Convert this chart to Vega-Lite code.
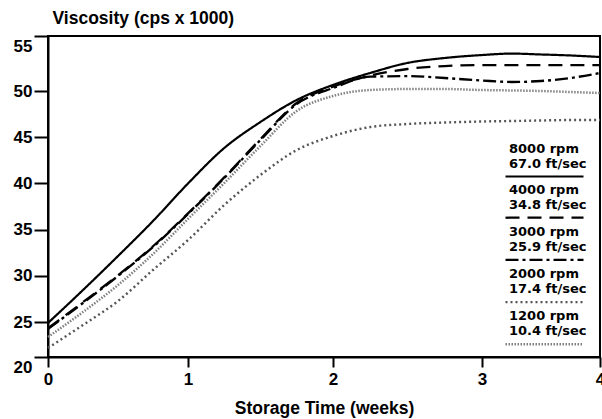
{
  "$schema": "https://vega.github.io/schema/vega-lite/v6.json",
  "width": 552,
  "height": 321,
  "autosize": {"type": "none"},
  "padding": {"left": 48, "top": 36, "right": 2, "bottom": 62},
  "background": "white",
  "config": {
    "view": {"stroke": "black", "strokeWidth": 2},
    "axis": {
      "domainColor": "black", "domainWidth": 2, "tickColor": "black", "tickWidth": 2, "grid": false,
      "labelFont": "Liberation Sans", "labelFontWeight": "bold", "labelFontSize": 17, "labelColor": "black",
      "titleFont": "Liberation Sans", "titleFontWeight": "bold", "titleFontSize": 17.5, "titleColor": "black"
    },
    "legend": {
      "orient": "none", "legendX": 490, "legendY": 110,
      "symbolType": "M-7.8,4.8H7.8", "symbolSize": 100,
      "labelFont": "DejaVu Sans", "labelFontSize": 13, "labelFontWeight": "bold", "labelColor": "black",
      "labelBaseline": "alphabetic", "labelOffset": -42, "labelLimit": 0,
      "rowPadding": 2.2, "padding": 0, "offset": 0
    }
  },
  "data": {"values": [
    {"s": "8000 rpm|67.0 ft/sec", "t": 0, "v": 24.86},
    {"s": "8000 rpm|67.0 ft/sec", "t": 0.25, "v": 28.46},
    {"s": "8000 rpm|67.0 ft/sec", "t": 0.5, "v": 32.14},
    {"s": "8000 rpm|67.0 ft/sec", "t": 0.75, "v": 35.93},
    {"s": "8000 rpm|67.0 ft/sec", "t": 1, "v": 39.99},
    {"s": "8000 rpm|67.0 ft/sec", "t": 1.25, "v": 43.83},
    {"s": "8000 rpm|67.0 ft/sec", "t": 1.5, "v": 46.65},
    {"s": "8000 rpm|67.0 ft/sec", "t": 1.75, "v": 49.03},
    {"s": "8000 rpm|67.0 ft/sec", "t": 2, "v": 50.55},
    {"s": "8000 rpm|67.0 ft/sec", "t": 2.25, "v": 51.64},
    {"s": "8000 rpm|67.0 ft/sec", "t": 2.5, "v": 52.55},
    {"s": "8000 rpm|67.0 ft/sec", "t": 2.75, "v": 53.0},
    {"s": "8000 rpm|67.0 ft/sec", "t": 3, "v": 53.27},
    {"s": "8000 rpm|67.0 ft/sec", "t": 3.25, "v": 53.4},
    {"s": "8000 rpm|67.0 ft/sec", "t": 3.5, "v": 53.32},
    {"s": "8000 rpm|67.0 ft/sec", "t": 3.75, "v": 53.23},
    {"s": "8000 rpm|67.0 ft/sec", "t": 4, "v": 53.09},
    {"s": "4000 rpm|34.8 ft/sec", "t": 0, "v": 24.1},
    {"s": "4000 rpm|34.8 ft/sec", "t": 0.25, "v": 27.15},
    {"s": "4000 rpm|34.8 ft/sec", "t": 0.5, "v": 30.05},
    {"s": "4000 rpm|34.8 ft/sec", "t": 0.75, "v": 33.2},
    {"s": "4000 rpm|34.8 ft/sec", "t": 1, "v": 36.75},
    {"s": "4000 rpm|34.8 ft/sec", "t": 1.25, "v": 40.65},
    {"s": "4000 rpm|34.8 ft/sec", "t": 1.5, "v": 44.8},
    {"s": "4000 rpm|34.8 ft/sec", "t": 1.75, "v": 48.7},
    {"s": "4000 rpm|34.8 ft/sec", "t": 2, "v": 50.4},
    {"s": "4000 rpm|34.8 ft/sec", "t": 2.25, "v": 51.4},
    {"s": "4000 rpm|34.8 ft/sec", "t": 2.5, "v": 52.0},
    {"s": "4000 rpm|34.8 ft/sec", "t": 2.75, "v": 52.27},
    {"s": "4000 rpm|34.8 ft/sec", "t": 3, "v": 52.36},
    {"s": "4000 rpm|34.8 ft/sec", "t": 3.25, "v": 52.36},
    {"s": "4000 rpm|34.8 ft/sec", "t": 3.5, "v": 52.36},
    {"s": "4000 rpm|34.8 ft/sec", "t": 3.75, "v": 52.36},
    {"s": "4000 rpm|34.8 ft/sec", "t": 4, "v": 52.36},
    {"s": "3000 rpm|25.9 ft/sec", "t": 0, "v": 24.0},
    {"s": "3000 rpm|25.9 ft/sec", "t": 0.25, "v": 27.06},
    {"s": "3000 rpm|25.9 ft/sec", "t": 0.5, "v": 29.98},
    {"s": "3000 rpm|25.9 ft/sec", "t": 0.75, "v": 33.12},
    {"s": "3000 rpm|25.9 ft/sec", "t": 1, "v": 36.69},
    {"s": "3000 rpm|25.9 ft/sec", "t": 1.25, "v": 40.58},
    {"s": "3000 rpm|25.9 ft/sec", "t": 1.5, "v": 44.7},
    {"s": "3000 rpm|25.9 ft/sec", "t": 1.75, "v": 48.59},
    {"s": "3000 rpm|25.9 ft/sec", "t": 2, "v": 50.27},
    {"s": "3000 rpm|25.9 ft/sec", "t": 2.25, "v": 51.3},
    {"s": "3000 rpm|25.9 ft/sec", "t": 2.5, "v": 51.35},
    {"s": "3000 rpm|25.9 ft/sec", "t": 2.75, "v": 51.18},
    {"s": "3000 rpm|25.9 ft/sec", "t": 3, "v": 50.95},
    {"s": "3000 rpm|25.9 ft/sec", "t": 3.25, "v": 50.82},
    {"s": "3000 rpm|25.9 ft/sec", "t": 3.5, "v": 50.91},
    {"s": "3000 rpm|25.9 ft/sec", "t": 3.75, "v": 51.18},
    {"s": "3000 rpm|25.9 ft/sec", "t": 4, "v": 51.64},
    {"s": "2000 rpm|17.4 ft/sec", "t": 0, "v": 21.29},
    {"s": "2000 rpm|17.4 ft/sec", "t": 0.25, "v": 24.57},
    {"s": "2000 rpm|17.4 ft/sec", "t": 0.5, "v": 27.27},
    {"s": "2000 rpm|17.4 ft/sec", "t": 0.75, "v": 30.63},
    {"s": "2000 rpm|17.4 ft/sec", "t": 1, "v": 33.87},
    {"s": "2000 rpm|17.4 ft/sec", "t": 1.25, "v": 37.66},
    {"s": "2000 rpm|17.4 ft/sec", "t": 1.5, "v": 40.91},
    {"s": "2000 rpm|17.4 ft/sec", "t": 1.75, "v": 43.61},
    {"s": "2000 rpm|17.4 ft/sec", "t": 2, "v": 45.13},
    {"s": "2000 rpm|17.4 ft/sec", "t": 2.25, "v": 46.1},
    {"s": "2000 rpm|17.4 ft/sec", "t": 2.5, "v": 46.43},
    {"s": "2000 rpm|17.4 ft/sec", "t": 2.75, "v": 46.59},
    {"s": "2000 rpm|17.4 ft/sec", "t": 3, "v": 46.7},
    {"s": "2000 rpm|17.4 ft/sec", "t": 3.25, "v": 46.75},
    {"s": "2000 rpm|17.4 ft/sec", "t": 3.5, "v": 46.81},
    {"s": "2000 rpm|17.4 ft/sec", "t": 3.75, "v": 46.86},
    {"s": "2000 rpm|17.4 ft/sec", "t": 4, "v": 46.86},
    {"s": "1200 rpm|10.4 ft/sec", "t": 0, "v": 22.86},
    {"s": "1200 rpm|10.4 ft/sec", "t": 0.25, "v": 26.08},
    {"s": "1200 rpm|10.4 ft/sec", "t": 0.5, "v": 29.0},
    {"s": "1200 rpm|10.4 ft/sec", "t": 0.75, "v": 32.36},
    {"s": "1200 rpm|10.4 ft/sec", "t": 1, "v": 36.15},
    {"s": "1200 rpm|10.4 ft/sec", "t": 1.25, "v": 40.04},
    {"s": "1200 rpm|10.4 ft/sec", "t": 1.5, "v": 44.05},
    {"s": "1200 rpm|10.4 ft/sec", "t": 1.75, "v": 47.84},
    {"s": "1200 rpm|10.4 ft/sec", "t": 2, "v": 49.46},
    {"s": "1200 rpm|10.4 ft/sec", "t": 2.25, "v": 50.09},
    {"s": "1200 rpm|10.4 ft/sec", "t": 2.5, "v": 50.18},
    {"s": "1200 rpm|10.4 ft/sec", "t": 2.75, "v": 50.18},
    {"s": "1200 rpm|10.4 ft/sec", "t": 3, "v": 50.09},
    {"s": "1200 rpm|10.4 ft/sec", "t": 3.25, "v": 50.05},
    {"s": "1200 rpm|10.4 ft/sec", "t": 3.5, "v": 50.0},
    {"s": "1200 rpm|10.4 ft/sec", "t": 3.75, "v": 49.89},
    {"s": "1200 rpm|10.4 ft/sec", "t": 4, "v": 49.78}
  ]},
  "mark": {"type": "line", "interpolate": "monotone"},
  "encoding": {
    "x": {
      "field": "t", "type": "quantitative",
      "scale": {"domain": [0, 1, 2, 3, 4], "range": [0, 140, 285, 434, 552]},
      "axis": {"values": [0, 1, 2, 3, 4], "format": "d", "title": "Storage Time (weeks)", "tickSize": 10, "labelPadding": 4, "labelFlush": false, "titlePadding": 12}
    },
    "y": {
      "field": "v", "type": "quantitative",
      "scale": {"domain": [20, 25, 50, 55], "range": [321, 286, 55, 0]},
      "axis": {
        "values": [20, 25, 30, 35, 40, 45, 50, 55], "title": "Viscosity (cps x 1000)",
        "titleAngle": 0, "titleAlign": "left", "titleBaseline": "middle", "titleX": 4, "titleY": -18,
        "tickSize": 14, "labelPadding": 2,
        "labelOffset": {"condition": {"test": "datum.value == 55 || datum.value == 20", "value": 10}, "value": 0}
      }
    },
    "color": {
      "field": "s", "type": "nominal",
      "scale": {"domain": ["8000 rpm|67.0 ft/sec", "4000 rpm|34.8 ft/sec", "3000 rpm|25.9 ft/sec", "2000 rpm|17.4 ft/sec", "1200 rpm|10.4 ft/sec"], "range": ["#000000", "#000000", "#000000", "#555555", "#808080"]},
      "legend": {"title": null, "labelExpr": "split(datum.label, '|')"}
    },
    "strokeDash": {
      "field": "s", "type": "nominal",
      "scale": {"domain": ["8000 rpm|67.0 ft/sec", "4000 rpm|34.8 ft/sec", "3000 rpm|25.9 ft/sec", "2000 rpm|17.4 ft/sec", "1200 rpm|10.4 ft/sec"], "range": [[1, 0], [14, 8], [13, 4, 3, 4], [2, 3], [1.5, 1.5]]},
      "legend": {"title": null, "labelExpr": "split(datum.label, '|')"}
    },
    "strokeWidth": {
      "field": "s", "type": "nominal",
      "scale": {"domain": ["8000 rpm|67.0 ft/sec", "4000 rpm|34.8 ft/sec", "3000 rpm|25.9 ft/sec", "2000 rpm|17.4 ft/sec", "1200 rpm|10.4 ft/sec"], "range": [2.2, 2.5, 2.5, 2, 1.5]},
      "legend": {"title": null, "labelExpr": "split(datum.label, '|')"}
    }
  }
}
